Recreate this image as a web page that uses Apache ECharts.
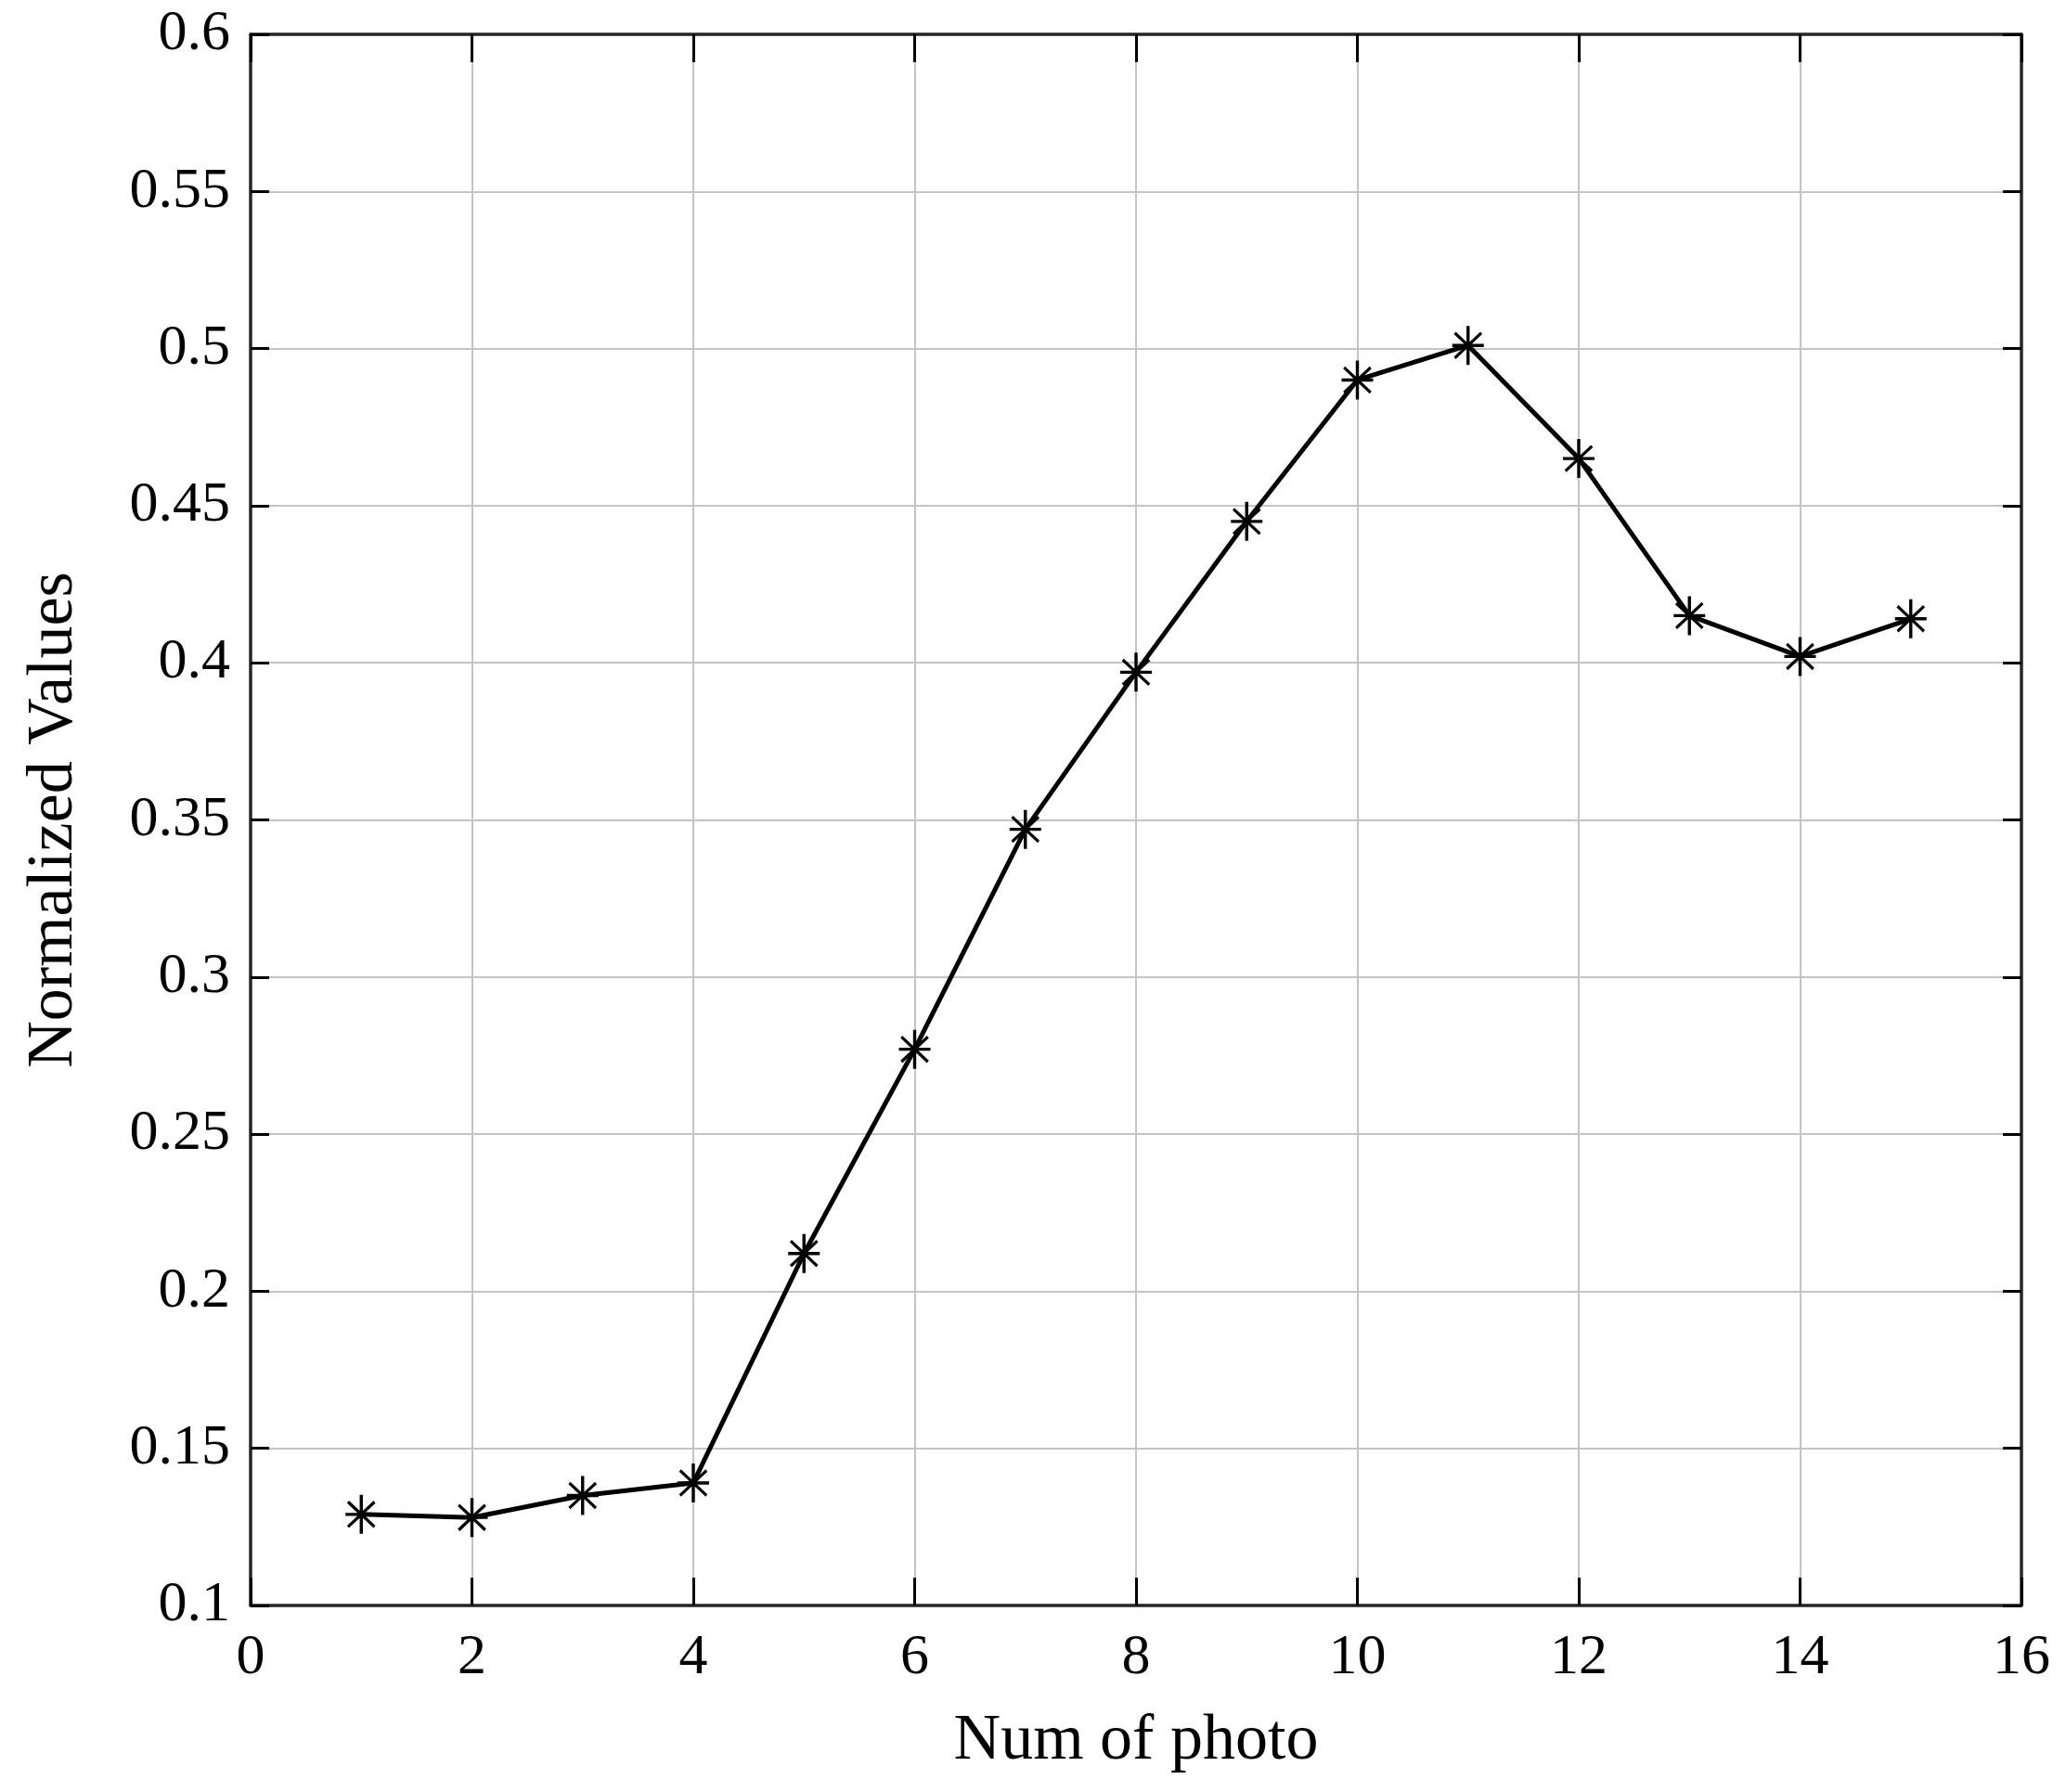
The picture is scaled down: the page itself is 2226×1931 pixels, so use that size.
<!DOCTYPE html>
<html>
<head>
<meta charset="utf-8">
<script src="https://cdn.jsdelivr.net/npm/echarts@6/dist/echarts.min.js"></script>
<style>
html,body{margin:0;padding:0;background:#fff;}
#c{width:2226px;height:1931px;}
</style>
</head>
<body>
<div id="c"></div>
<script>
// ---- data ----
const photoNums = [1, 2, 3, 4, 5, 6, 7, 8, 9, 10, 11, 12, 13, 14, 15];
const normValues = [0.129, 0.128, 0.135, 0.139, 0.212, 0.277, 0.347, 0.397, 0.445, 0.490, 0.501, 0.465, 0.415, 0.402, 0.414];
const xTicks = [0, 2, 4, 6, 8, 10, 12, 14, 16];
const yTicks = [0.1, 0.15, 0.2, 0.25, 0.3, 0.35, 0.4, 0.45, 0.5, 0.55, 0.6];
const xTitle = 'Num of photo';
const yTitle = 'Normalized Values';

const FONT = '"Liberation Serif", "Times New Roman", serif';
const AXIS_COLOR = '#262626';
const asterisk = 'path://M45,0L55,0L55,100L45,100Z M0,46L100,46L100,54L0,54Z M11,15L95,79L89,85L5,21Z M89,15L95,21L11,85L5,79Z';

const xMin = xTicks[0], xMax = xTicks[xTicks.length - 1], xInt = xTicks[1] - xTicks[0];
const yMin = yTicks[0], yMax = yTicks[yTicks.length - 1], yInt = +(yTicks[1] - yTicks[0]).toFixed(2);

const chart = echarts.init(document.getElementById('c'), null, {renderer: 'canvas'});
const fmt = v => String(parseFloat(v.toFixed(2)));

const baseX = {
  type: 'value', min: xMin, max: xMax, interval: xInt,
  axisLine: {show: true, onZero: false, lineStyle: {color: AXIS_COLOR, width: 3.5}},
  axisTick: {show: true, inside: true, length: 30, lineStyle: {color: '#000', width: 3}},
  splitLine: {show: false}
};
const baseY = {
  type: 'value', min: yMin, max: yMax, interval: yInt,
  axisLine: {show: true, onZero: false, lineStyle: {color: AXIS_COLOR, width: 3.5}},
  axisTick: {show: true, inside: true, length: 20, lineStyle: {color: '#000', width: 3}},
  splitLine: {show: false}
};

chart.setOption({
  animation: false,
  backgroundColor: '#ffffff',
  grid: {left: 270, top: 37, right: 48, bottom: 201, containLabel: false},
  xAxis: [
    Object.assign({}, baseX, {
      position: 'bottom',
      name: xTitle, nameLocation: 'middle', nameGap: 112,
      nameTextStyle: {fontFamily: FONT, fontSize: 70, color: '#000'},
      axisLabel: {show: true, margin: 26, fontFamily: FONT, fontSize: 62, color: '#000', formatter: fmt},
      splitLine: {show: true, lineStyle: {color: '#c4c4c4', width: 2}}
    }),
    Object.assign({}, baseX, {position: 'top', axisLabel: {show: false}})
  ],
  yAxis: [
    Object.assign({}, baseY, {
      position: 'left',
      name: yTitle, nameLocation: 'middle', nameGap: 176,
      nameTextStyle: {fontFamily: FONT, fontSize: 70, color: '#000'},
      axisLabel: {show: true, margin: 22, fontFamily: FONT, fontSize: 62, color: '#000', formatter: fmt},
      splitLine: {show: true, lineStyle: {color: '#c4c4c4', width: 2}}
    }),
    Object.assign({}, baseY, {position: 'right', axisLabel: {show: false}})
  ],
  series: [{
    type: 'line',
    xAxisIndex: 0, yAxisIndex: 0,
    data: photoNums.map((x, i) => [x, normValues[i]]),
    lineStyle: {color: '#000', width: 5},
    symbol: asterisk,
    symbolSize: [34, 42],
    showSymbol: true,
    itemStyle: {color: '#000'},
    z: 5
  }]
});
</script>
</body>
</html>
